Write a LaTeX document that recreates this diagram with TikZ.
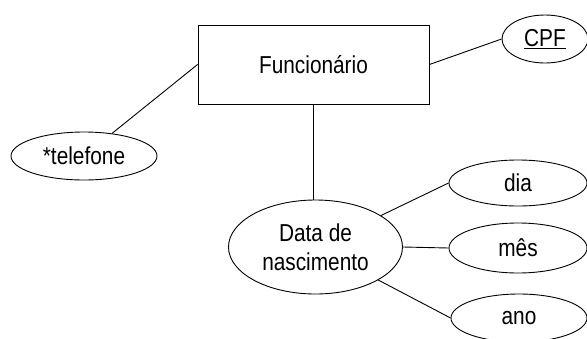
\documentclass[tikz,border=0pt]{standalone}
\usepackage{fontspec}
\setmainfont{Liberation Sans}[FakeStretch=0.85]
\usetikzlibrary{shapes.geometric}

\tikzset{
  entity/.style={draw, rectangle, inner sep=0pt, line width=0.9pt},
  attr/.style={draw, ellipse, inner sep=0pt, line width=0.9pt},
  link/.style={line width=0.9pt},
}

\begin{document}
\begin{tikzpicture}[x=1pt, y=-1pt, font=\fontsize{24.5}{29.5}\selectfont]
  \useasboundingbox (0,0) rectangle (587,338);
  \clip (0,0) rectangle (587,338);

  % entity and its attributes
  \node[entity, minimum width=231pt, minimum height=79pt] (func) at (313.5,64.5) {Funcionário};
  \node[attr, minimum width=86pt, minimum height=48pt] (cpf) at (545,39) {\underline{CPF}};
  \node[attr, minimum width=146pt, minimum height=48pt] (tel) at (84,156) {*telefone};
  \node[attr, minimum width=174pt, minimum height=94pt, align=center] (data) at (315.5,247) {Data de\\nascimento};

  % parts of the composite attribute
  \node[attr, minimum width=138pt, minimum height=46pt] (dia) at (518,183) {dia};
  \node[attr, minimum width=138pt, minimum height=50pt] (mes) at (518,248) {mês};
  \node[attr, minimum width=136pt, minimum height=48pt] (ano) at (519,318) {ano};

  % connectors
  \draw[link] (func.east) -- (cpf.west);
  \draw[link] (func.west) -- (tel);
  \draw[link] (func.south) -- (func.south |- data.north);
  \draw[link] (data) -- (dia.west);
  \draw[link] (data.east) -- (mes.west);
  \draw[link] (data) -- (ano.west);
\end{tikzpicture}
\end{document}
